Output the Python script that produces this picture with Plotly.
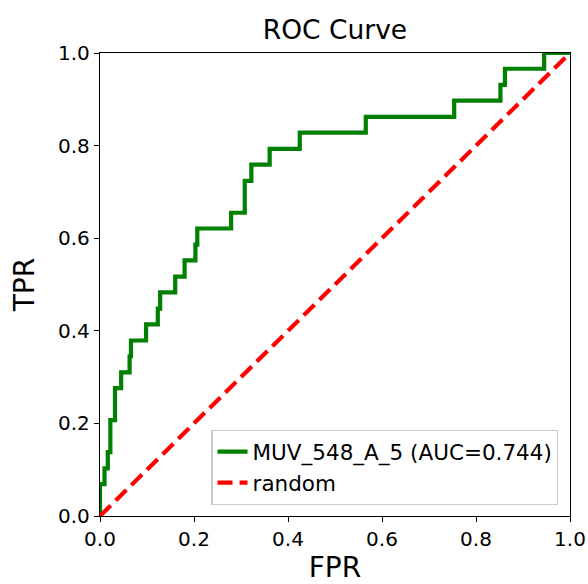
import plotly.graph_objects as go

# ROC curve corner points
fpr = [0.0, 0.0, 0.0096, 0.0166, 0.022, 0.032, 0.045, 0.063, 0.066, 0.098,
       0.123, 0.128, 0.160, 0.180, 0.203, 0.207, 0.279, 0.308, 0.322, 0.361,
       0.425, 0.5655, 0.7536, 0.852, 0.8616, 0.945, 1.0]
tpr = [0.0, 0.069, 0.103, 0.138, 0.207, 0.276, 0.310, 0.345, 0.379, 0.414,
       0.448, 0.483, 0.517, 0.552, 0.586, 0.621, 0.655, 0.724, 0.759, 0.793,
       0.828, 0.862, 0.897, 0.931, 0.966, 1.0, 1.0]
random_x = [0.0, 1.0]
random_y = [0.0, 1.0]
curve_name = "MUV_548_A_5 (AUC=0.744)"
tick_vals = [0.0, 0.2, 0.4, 0.6, 0.8, 1.0]
tick_text = ["0.0", "0.2", "0.4", "0.6", "0.8", "1.0"]

FONT = "DejaVu Sans"

fig = go.Figure()
fig.add_trace(go.Scatter(
    x=fpr, y=tpr, mode="lines", line_shape="hv", name=curve_name,
    line=dict(color="green", width=4.2),
))
fig.add_trace(go.Scatter(
    x=random_x, y=random_y, mode="lines", name="random",
    line=dict(color="red", width=4.2, dash="15px,7px"),
))

axis_common = dict(
    range=[0, 1], tickvals=tick_vals, ticktext=tick_text,
    showline=True, mirror=True, linecolor="black", linewidth=1.3,
    ticks="outside", ticklen=5, tickwidth=1.3, tickcolor="black",
    showgrid=False, zeroline=False, automargin=False,
    tickfont=dict(family=FONT, size=20, color="black"),
)

fig.update_layout(
    width=588, height=584,
    margin=dict(l=100, r=18, t=53, b=68),
    paper_bgcolor="white", plot_bgcolor="white",
    title=dict(text="ROC Curve", x=(100 + 570) / 2 / 588, xanchor="center",
               y=1 - 30 / 584, yanchor="middle",
               font=dict(family=FONT, size=26.5, color="black")),
    xaxis=dict(**axis_common,
               title=dict(text="FPR", standoff=10,
                          font=dict(family=FONT, size=28, color="black"))),
    yaxis=dict(**axis_common,
               title=dict(text="TPR", standoff=15,
                          font=dict(family=FONT, size=28, color="black"))),
    legend=dict(x=0.975, y=0.024, xanchor="right", yanchor="bottom",
                bgcolor="rgba(255,255,255,0.8)", bordercolor="#cccccc",
                borderwidth=1.3,
                font=dict(family=FONT, size=21.5, color="black"),
                tracegroupgap=2),
    showlegend=True,
)

fig.write_html("out.html", config={"displayModeBar": False},
               post_script="document.body.style.margin='0';document.body.style.overflow='hidden';")
